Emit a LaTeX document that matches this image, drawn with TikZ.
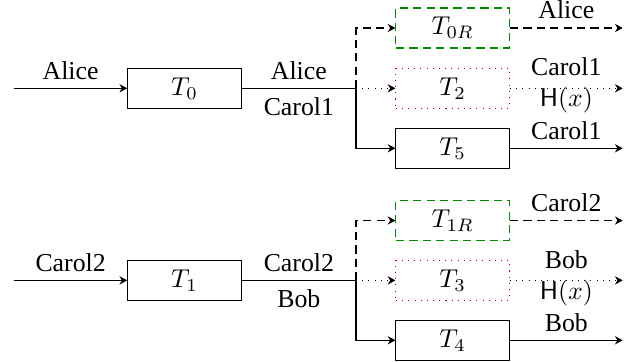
\documentclass[tikz,border=0pt]{standalone}
\usepackage[no-math]{fontspec}
\setmainfont{Liberation Serif}
\newfontfamily\tnr{Liberation Serif}
\usetikzlibrary{arrows.meta}
\begin{document}
\begin{tikzpicture}[x=0.3876pt,y=-0.3876pt,font=\tnr,
  box/.style={draw,line width=0.4pt,minimum width=44pt,minimum height=15.5pt,inner sep=0pt},
  rbox/.style={box,draw=green!55!black,dash pattern=on 3.2pt off 2pt},
  dbox/.style={box,draw=red!75!black,dotted},
  arr/.style={-{Stealth[length=3pt,width=3.2pt]}},
  dsh/.style={dash pattern=on 3.2pt off 2pt},
  lab/.style={inner sep=3.3pt}]
\useasboundingbox (0,0) rectangle (641,362);
% ---------- top row ----------
\coordinate (in0) at (14,88.3);
\node[box] (T0) at (184.5,88.3) {$T_0$};
\coordinate (j0) at (356,88.3);
\node[rbox] (T0R) at (452.7,28) {$T_{0R}$};
\node[dbox] (T2) at (452.7,88.3) {$T_2$};
\node[box] (T5) at (452.7,148.3) {$T_5$};
\coordinate (o0R) at (622.7,28);
\coordinate (o2) at (622.7,88.3);
\coordinate (o5) at (622.7,148.3);
\draw[arr] (in0) -- node[midway,above,lab] (la0) {Alice} (T0);
\draw (T0) -- node[midway,above,lab] (lb0) {Alice} node[midway,below,lab] (lc0) {Carol1} (j0);
\draw[arr,dsh] (j0) |- (T0R.west);
\draw[arr,dotted] (j0) -- (T2.west);
\draw[arr] (j0) |- (T5.west);
\draw[arr,dsh] (T0R.east) -- node[midway,above,lab] (ld0) {Alice} (o0R);
\draw[arr,dotted] (T2.east) -- node[midway,align=center,yshift=1pt] (le0) {Carol1\\$\mathsf{H}(x)$} (o2);
\draw[arr] (T5.east) -- node[midway,above,lab] (lf0) {Carol1} (o5);
% ---------- bottom row ----------
\coordinate (in1) at (14,280.4);
\node[box] (T1) at (184.5,280.4) {$T_1$};
\coordinate (j1) at (356,280.4);
\node[rbox] (T1R) at (452.7,220.5) {$T_{1R}$};
\node[dbox] (T3) at (452.7,280.4) {$T_3$};
\node[box] (T4) at (452.7,340.3) {$T_4$};
\coordinate (o1R) at (622.7,220.5);
\coordinate (o3) at (622.7,280.4);
\coordinate (o4) at (622.7,340.3);
\draw[arr] (in1) -- node[midway,above,lab] (la1) {Carol2} (T1);
\draw (T1) -- node[midway,above,lab] (lb1) {Carol2} node[midway,below,lab] (lc1) {Bob} (j1);
\draw[arr,dsh] (j1) |- (T1R.west);
\draw[arr,dotted] (j1) -- (T3.west);
\draw[arr] (j1) |- (T4.west);
\draw[arr,dsh] (T1R.east) -- node[midway,above,lab] (ld1) {Carol2} (o1R);
\draw[arr,dotted] (T3.east) -- node[midway,align=center,yshift=1pt] (le1) {Bob\\$\mathsf{H}(x)$} (o3);
\draw[arr] (T4.east) -- node[midway,above,lab] (lf1) {Bob} (o4);
\end{tikzpicture}
\end{document}
